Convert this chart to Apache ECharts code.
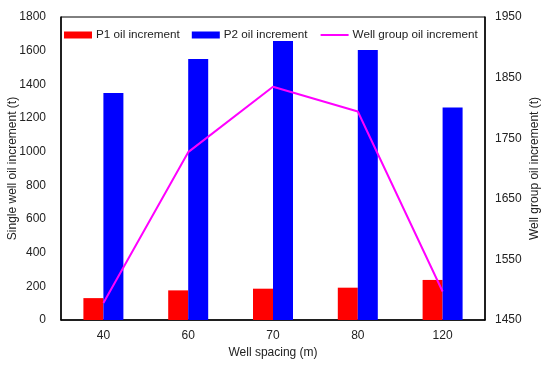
<!DOCTYPE html>
<html>
<head>
<meta charset="utf-8">
<script src="https://cdn.jsdelivr.net/npm/echarts@6/dist/echarts.min.js"></script>
<style>html,body{margin:0;padding:0;background:#fff}#c{width:550px;height:373px}</style>
</head>
<body>
<div id="c"></div>
<script>
var categories = ['40', '60', '70', '80', '120'];
var p1Values = [130, 176, 186, 192, 238];
var p2Values = [1348, 1550, 1658, 1604, 1263];
var groupValues = [1478, 1727, 1835, 1794, 1497];
var leftTicks = [0, 1800, 200];
var rightTicks = [1450, 1950, 100];

var chart = echarts.init(document.getElementById('c'));
var font = 'Liberation Sans, Arial, sans-serif';
function plain(v) { return String(v); }
chart.setOption({
  animation: false,
  textStyle: {fontFamily: font},
  grid: {left: 61, right: 65, top: 17, bottom: 53, show: true, borderColor: '#000', borderWidth: 1,
         containLabel: false, outerBoundsMode: 'none'},
  legend: {
    left: 64, top: 29, padding: 0, itemGap: 12, itemWidth: 28, itemHeight: 7,
    textStyle: {fontFamily: font, fontSize: 11.7, color: '#222', padding: [0, 0, 0, -1]},
    data: [
      {name: 'P1 oil increment', icon: 'rect'},
      {name: 'P2 oil increment', icon: 'rect'},
      {name: 'Well group oil increment', itemStyle: {opacity: 0}}
    ]
  },
  xAxis: {
    type: 'category', data: categories,
    name: 'Well spacing (m)', nameLocation: 'middle', nameGap: 27, nameMoveOverlap: false,
    nameTextStyle: {fontFamily: font, fontSize: 12, color: '#222'},
    axisLine: {lineStyle: {color: '#000', width: 1.5}},
    axisTick: {show: false},
    axisLabel: {fontFamily: font, fontSize: 12, color: '#222', margin: 10}
  },
  yAxis: [{
    type: 'value', min: leftTicks[0], max: leftTicks[1], interval: leftTicks[2],
    name: 'Single well oil increment (t)', nameLocation: 'middle', nameGap: 42, nameRotate: 90,
    nameMoveOverlap: false,
    nameTextStyle: {fontFamily: font, fontSize: 12, color: '#222'},
    axisLine: {show: true, lineStyle: {color: '#000', width: 1.5}},
    axisTick: {show: false},
    splitLine: {show: false},
    axisLabel: {fontFamily: font, fontSize: 12, color: '#222', margin: 15, formatter: plain}
  }, {
    type: 'value', min: rightTicks[0], max: rightTicks[1], interval: rightTicks[2],
    name: 'Well group oil increment (t)', nameLocation: 'middle', nameGap: 44, nameRotate: 90,
    nameMoveOverlap: false,
    nameTextStyle: {fontFamily: font, fontSize: 12, color: '#222'},
    axisLine: {show: true, lineStyle: {color: '#000', width: 1.5}},
    axisTick: {show: false},
    splitLine: {show: false},
    axisLabel: {fontFamily: font, fontSize: 12, color: '#222', margin: 10, formatter: plain}
  }],
  series: [{
    name: 'P1 oil increment', type: 'bar', data: p1Values,
    barWidth: 20, barGap: '0%', itemStyle: {color: '#FF0000'}
  }, {
    name: 'P2 oil increment', type: 'bar', data: p2Values,
    barWidth: 20, barGap: '0%', itemStyle: {color: '#0000FF'}
  }, {
    name: 'Well group oil increment', type: 'line', yAxisIndex: 1, data: groupValues,
    symbol: 'none', z: 5, lineStyle: {color: '#FF00FF', width: 2}, itemStyle: {color: '#FF00FF'}
  }]
});
</script>
</body>
</html>
